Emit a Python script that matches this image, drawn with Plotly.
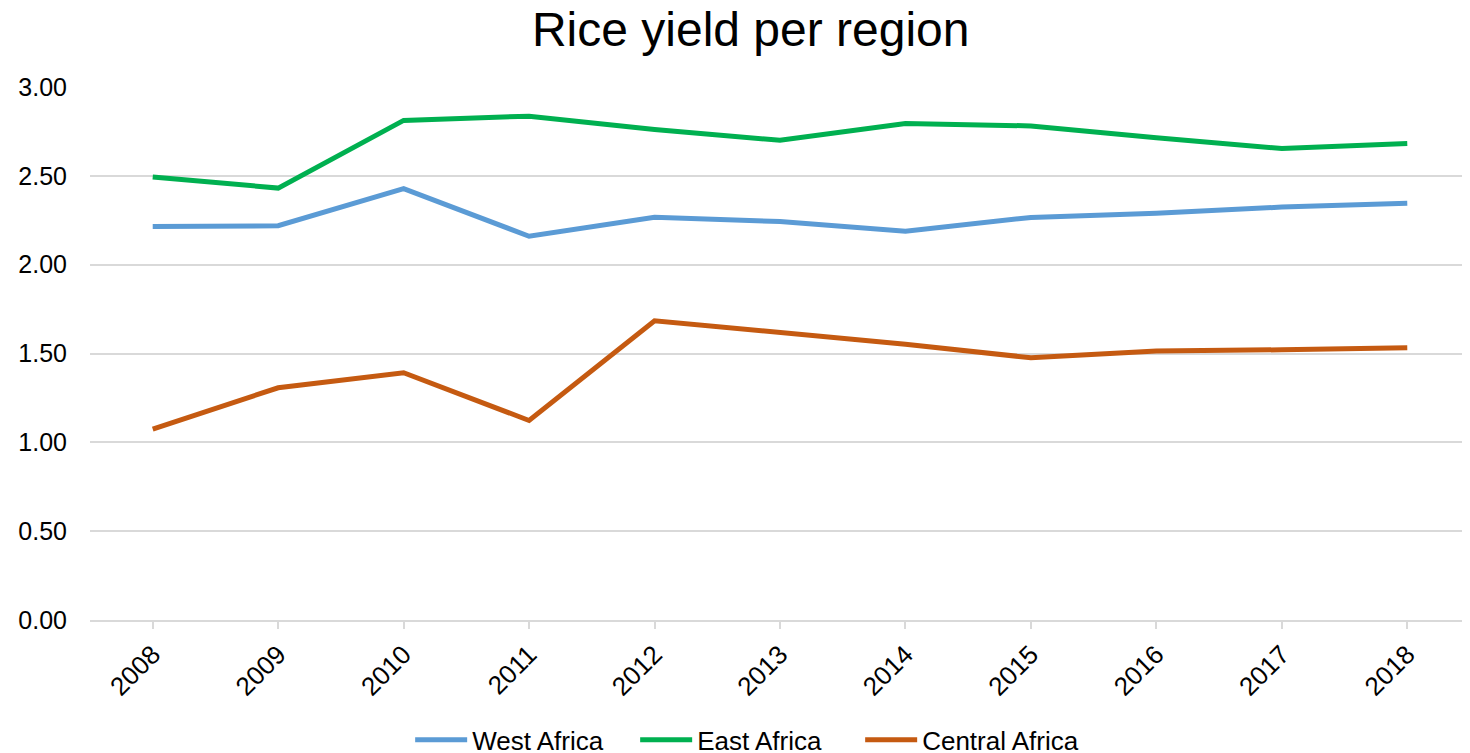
import plotly.graph_objects as go

years = ["2008", "2009", "2010", "2011", "2012", "2013", "2014", "2015", "2016", "2017", "2018"]
west_africa = [2.215, 2.219, 2.428, 2.160, 2.267, 2.243, 2.188, 2.266, 2.290, 2.324, 2.345]
east_africa = [2.494, 2.431, 2.812, 2.836, 2.761, 2.700, 2.795, 2.781, 2.714, 2.654, 2.682]
central_africa = [1.075, 1.307, 1.392, 1.123, 1.684, 1.618, 1.552, 1.476, 1.514, 1.521, 1.533]

series_names = ["West Africa", "East Africa", "Central Africa"]
series_values = [west_africa, east_africa, central_africa]
series_colors = ["#5B9BD5", "#00B050", "#C55A11"]

FONT = "Arial, 'Liberation Sans', sans-serif"

fig = go.Figure()
for name, vals, col in zip(series_names, series_values, series_colors):
    fig.add_trace(go.Scatter(
        x=years, y=vals, name=name, mode="lines",
        line=dict(color=col, width=5),
    ))

fig.update_layout(
    width=1462, height=745,
    paper_bgcolor="white", plot_bgcolor="white",
    margin=dict(l=82, r=0, t=79, b=133, autoexpand=False),
    title=dict(text="Rice yield per region", x=0.508, xanchor="center",
               y=0.972, yanchor="middle",
               font=dict(family=FONT, size=48, color="black")),
    font=dict(family=FONT, size=25, color="black"),
    legend=dict(orientation="h", x=0.232, xanchor="left", y=-0.225, yanchor="middle",
                font=dict(family=FONT, size=26, color="black"),
                itemwidth=52, entrywidth=158, entrywidthmode="pixels"),
    showlegend=True,
)

fig.update_xaxes(
    type="category", range=[-0.5, 10.5], automargin=False,
    showgrid=False, showline=True, linecolor="#D9D9D9", linewidth=2,
    ticks="outside", ticklen=7, tickcolor="#D9D9D9", tickwidth=2,
    tickangle=-45, tickfont=dict(family=FONT, size=26, color="black"),
)
fig.update_yaxes(
    range=[0, 3], tickvals=[0, 0.5, 1, 1.5, 2, 2.5, 3], tickformat=".2f",
    automargin=False,
    showgrid=True, gridcolor="#D9D9D9", gridwidth=2,
    zeroline=False, showline=False, ticks="",
    ticklabelstandoff=22,
    tickfont=dict(family=FONT, size=25, color="black"),
)

fig.write_html("out.html")
